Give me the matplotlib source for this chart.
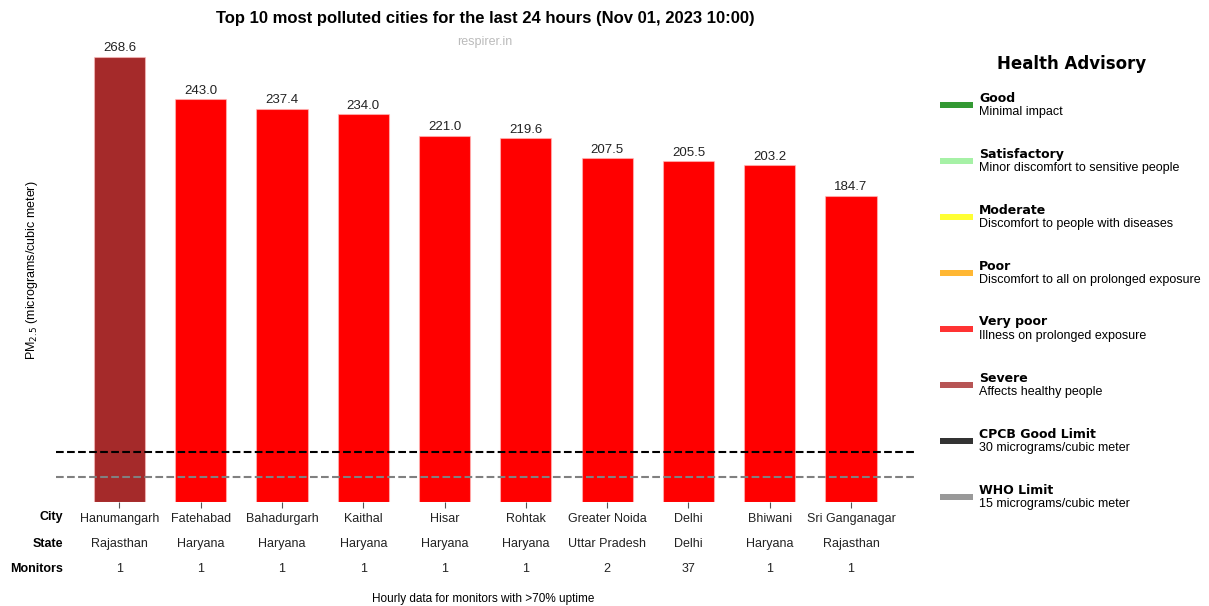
import matplotlib.pyplot as plt
from matplotlib.patches import Rectangle
from matplotlib.transforms import blended_transform_factory

plt.rcParams['font.family'] = ['Liberation Sans', 'DejaVu Sans']

# chart data
cities = ["Hanumangarh", "Fatehabad", "Bahadurgarh", "Kaithal", "Hisar",
          "Rohtak", "Greater Noida", "Delhi", "Bhiwani", "Sri Ganganagar"]
states = ["Rajasthan", "Haryana", "Haryana", "Haryana", "Haryana",
          "Haryana", "Uttar Pradesh", "Delhi", "Haryana", "Rajasthan"]
monitors = [1, 1, 1, 1, 1, 1, 2, 37, 1, 1]
pm25 = [268.6, 243.0, 237.4, 234.0, 221.0, 219.6, 207.5, 205.5, 203.2, 184.7]
cpcb_limit = 30
who_limit = 15

# advisory legend entries
adv_names = ["Good", "Satisfactory", "Moderate", "Poor", "Very poor",
             "Severe", "CPCB Good Limit", "WHO Limit"]
adv_desc = ["Minimal impact", "Minor discomfort to sensitive people",
            "Discomfort to people with diseases",
            "Discomfort to all on prolonged exposure",
            "Illness on prolonged exposure", "Affects healthy people",
            "30 micrograms/cubic meter", "15 micrograms/cubic meter"]
adv_colors = ["green", "lightgreen", "yellow", "orange", "red",
              "brown", "black", "gray"]


def bar_color(v):
    # severe above 250, very poor otherwise
    return "brown" if v > 250 else "red"


W, H = 1209, 606
fig = plt.figure(figsize=(W / 100, H / 100), dpi=100)


def fx(x):
    return x / W


def fy(y):
    return 1 - y / H


ax = fig.add_axes([fx(55.5), fy(502), fx(915) - fx(55.5), fy(38) - fy(502)])

xs = list(range(len(cities)))
bars = ax.bar(xs, pm25, width=0.63, color=[bar_color(v) for v in pm25],
              edgecolor=(1, 0.75, 0.75, 0.6), linewidth=0.8, zorder=2)
for b, v in zip(bars, pm25):
    ax.text(b.get_x() + b.get_width() / 2, v + 1.5, f"{v:.1f}",
            ha="center", va="bottom", fontsize=9.5, color="#222222")

ax.axhline(cpcb_limit, color="black", linestyle="--", linewidth=1.5, zorder=3)
ax.axhline(who_limit, color="gray", linestyle="--", linewidth=1.5, zorder=3)

ax.set_xlim(-0.787, len(cities) - 1 + 0.787)
ax.set_ylim(0, 280)
for s in ax.spines.values():
    s.set_visible(False)
ax.set_yticks([])
ax.set_xticks(xs)
ax.set_xticklabels(cities, fontsize=9, color="#222222")
ax.tick_params(axis="x", length=4, width=0.8, color="#555555", pad=4)

trans = blended_transform_factory(ax.transData, fig.transFigure)
for x, st, m in zip(xs, states, monitors):
    ax.text(x, fy(544), st, transform=trans, ha="center", va="center",
            fontsize=9, color="#222222")
    ax.text(x, fy(569), str(m), transform=trans, ha="center", va="center",
            fontsize=9, color="#222222")

for lab, y in zip(["City", "State", "Monitors"], [517, 544, 569]):
    fig.text(fx(63), fy(y), lab, ha="right", va="center", fontsize=9,
             fontweight="bold")

fig.text(fx(32), fy(270), "PM$_{2.5}$ (micrograms/cubic meter)", rotation=90,
         ha="center", va="center", fontsize=9)
fig.text(fx(485), fy(18), "Top 10 most polluted cities for the last 24 hours (Nov 01, 2023 10:00)",
         ha="center", va="center", fontsize=12, fontweight="bold")
fig.text(fx(485), fy(42), "respirer.in", ha="center", va="center",
         fontsize=9, color="#bbbbbb")
fig.text(fx(483), fy(599), "Hourly data for monitors with >70% uptime",
         ha="center", va="center", fontsize=8.5)

# health advisory legend
fig.text(fx(1072), fy(64), "Health Advisory", ha="center", va="center",
         fontsize=12, fontweight="bold", family="DejaVu Sans")
for i, (n, d, c) in enumerate(zip(adv_names, adv_desc, adv_colors)):
    y = 105 + 56 * i
    fig.patches.append(Rectangle((fx(940), fy(y + 3)), fx(973) - fx(940), 6 / H,
                                 transform=fig.transFigure, facecolor=c,
                                 alpha=0.8, edgecolor="none"))
    fig.text(fx(979), fy(y - 7), n, ha="left", va="center", fontsize=9,
             fontweight="bold", family="DejaVu Sans")
    fig.text(fx(979), fy(y + 7), d, ha="left", va="center", fontsize=9)

fig.savefig("out.png", dpi=100)
